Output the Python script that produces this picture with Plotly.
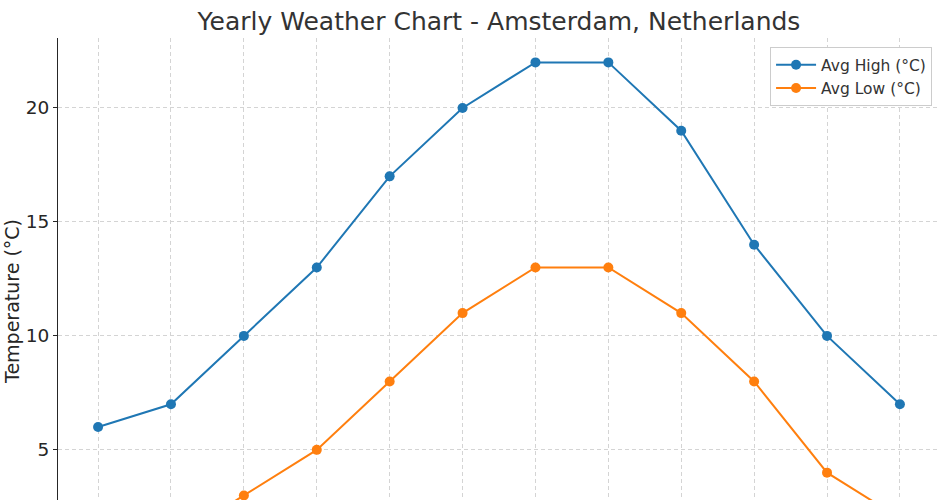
import plotly.graph_objects as go

months = ["Jan", "Feb", "Mar", "Apr", "May", "Jun", "Jul", "Aug", "Sep", "Oct", "Nov", "Dec"]
avg_high = [6, 7, 10, 13, 17, 20, 22, 22, 19, 14, 10, 7]
avg_low = [1, 1, 3, 5, 8, 11, 13, 13, 11, 8, 4, 2]

fig = go.Figure()
fig.add_trace(go.Scatter(x=months, y=avg_high, mode="lines+markers", name="Avg High (°C)",
                         line=dict(color="#1f77b4", width=2), marker=dict(size=10, color="#1f77b4")))
fig.add_trace(go.Scatter(x=months, y=avg_low, mode="lines+markers", name="Avg Low (°C)",
                         line=dict(color="#ff7f0e", width=2), marker=dict(size=10, color="#ff7f0e")))

fig.update_layout(
    width=950, height=500,
    margin=dict(l=58, r=10, t=38, b=0),
    paper_bgcolor="white", plot_bgcolor="white",
    font=dict(family="DejaVu Sans", color="#262626"),
    title=dict(text="Yearly Weather Chart - Amsterdam, Netherlands", x=(58 + 940) / 2 / 950,
               xanchor="center", y=1 - 21 / 500, yanchor="middle",
               font=dict(size=25, color="#333333")),
    showlegend=True,
    legend=dict(x=0.991, y=0.98, xanchor="right", yanchor="top",
                bgcolor="white", bordercolor="#cccccc", borderwidth=1,
                font=dict(size=15.5, color="#333333"), itemwidth=40,
                tracegroupgap=0),
    xaxis=dict(
        type="category", range=[-0.55, 11.55],
        showgrid=True, gridcolor="#d4d4d4", griddash="4px,3px", gridwidth=1,
        showticklabels=False, ticks="", showline=False, zeroline=False,
    ),
    yaxis=dict(
        range=[2.8, 23.07],
        tickvals=[5, 10, 15, 20],
        showgrid=True, gridcolor="#d4d4d4", griddash="4px,3px", gridwidth=1,
        ticks="outside", ticklen=4, tickcolor="#262626", tickwidth=1,
        showline=True, linecolor="#262626", linewidth=1.2, zeroline=False,
        tickfont=dict(size=18.5, color="#262626"),
    ),
    annotations=[dict(text="Temperature (°C)", textangle=-90, x=0, xref="paper",
                      xshift=-46, y=(500 - 302) / 462, yref="paper", showarrow=False,
                      xanchor="center", yanchor="middle",
                      font=dict(size=19, color="#262626"))],
)

fig.write_html("out.html")
